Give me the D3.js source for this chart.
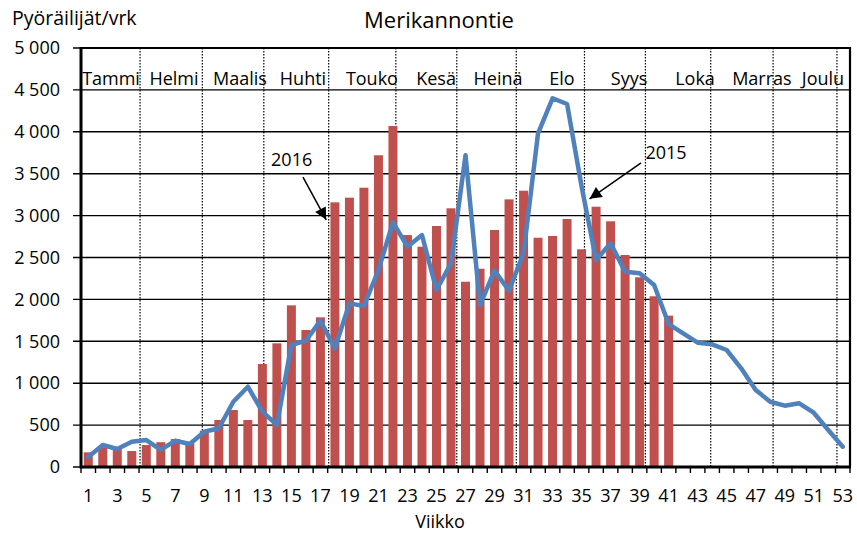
<!DOCTYPE html>
<html>
<head>
<meta charset="utf-8">
<script src="https://cdn.jsdelivr.net/npm/d3@7"></script>
<style>
  body { margin: 0; background: #fff; }
  svg { font-family: "Open Sans", sans-serif; }
</style>
</head>
<body>
<svg></svg>
<script>
// data
const weeks = [1,2,3,4,5,6,7,8,9,10,11,12,13,14,15,16,17,18,19,20,21,22,23,24,25,26,27,
  28,29,30,31,32,33,34,35,36,37,38,39,40,41,42,43,44,45,46,47,48,49,50,51,52,53];
const bars2016 = [175, 235, 215, 191, 262, 296, 334, 282, 433, 561, 680, 561, 1229, 1476, 1929,
  1635, 1786, 3158, 3214, 3333, 3720, 4069, 2768, 2629, 2876, 3087, 2211, 2366, 2828, 3194,
  3297, 2736, 2757, 2959, 2598, 3106, 2932, 2530, 2264, 2037, 1806];
const line2015 = [120, 262, 215, 302, 322, 205, 314, 274, 421, 462, 779, 958, 660, 501, 1456,
  1507, 1746, 1416, 1953, 1921, 2351, 2920, 2629, 2768, 2112, 2430, 3720, 1933, 2343, 2104,
  2550, 3982, 4400, 4332, 3350, 2470, 2669, 2331, 2311, 2172, 1706, 1595, 1484, 1464, 1396,
  1178, 919, 779, 732, 760, 648, 441, 242];
const yTicks = [0, 500, 1000, 1500, 2000, 2500, 3000, 3500, 4000, 4500, 5000];
const xTicks = [1,3,5,7,9,11,13,15,17,19,21,23,25,27,29,31,33,35,37,39,41,43,45,47,49,51,53];
const months = ["Tammi","Helmi","Maalis","Huhti","Touko","Kesä","Heinä","Elo","Syys","Loka","Marras","Joulu"];
// month label centres and month dividers, in week units from the left edge
const monthLabelPos = [2.07, 6.41, 10.96, 15.3, 20.05, 24.47, 28.74, 33.15, 37.77, 42.32, 46.93, 51.14];
const monthEdges = [4.07, 8.36, 12.6, 17.07, 21.7, 25.9, 30.0, 34.7, 38.9, 43.4, 47.7, 52.1];
// annotations: label, text position, arrow from -> to (week pos, value)
const notes = [
  {label: "2016", tx: 13.1, ty: 3590, x1: 15.3, y1: 3460, x2: 16.9, y2: 2950},
  {label: "2015", tx: 38.9, ty: 3680, x1: 38.6, y1: 3630, x2: 35.05, y2: 3200}
];

let svg = d3.select("svg");
const width = 857;
const height = 533;
let margin = {top: 48, bottom: 66, right: 7, left: 81};
svg.attr("width", width).attr("height", height);

let x = d3.scaleBand().domain(weeks)
  .range([margin.left, width - margin.right])
  .paddingInner(0.38).paddingOuter(0.19);
let xw = d3.scaleLinear().domain([0, 53]).range([margin.left, width - margin.right]);
let y = d3.scaleLinear().domain([0, 5000]).range([height - margin.bottom, margin.top]);
let cx = (w) => x(w) + x.bandwidth() / 2;

// horizontal grid + left ticks
svg.append("g").selectAll("line").data(yTicks).join("line")
  .attr("x1", margin.left - 8).attr("x2", width - margin.right)
  .attr("y1", d => y(d)).attr("y2", d => y(d))
  .attr("stroke", "#000").attr("stroke-width", 1.4);

// month dividers
svg.append("g").selectAll("line").data(monthEdges).join("line")
  .attr("x1", d => xw(d)).attr("x2", d => xw(d))
  .attr("y1", y(5000)).attr("y2", y(0))
  .attr("stroke", "#000").attr("stroke-width", 1.2)
  .attr("stroke-dasharray", "1.5,1.5");

// bars 2016
svg.append("g").selectAll("rect").data(bars2016).join("rect")
  .attr("x", (d, i) => x(weeks[i]))
  .attr("width", x.bandwidth())
  .attr("y", d => y(d))
  .attr("height", d => y(0) - y(d))
  .attr("fill", "#C0504D");

// line 2015
let line = d3.line()
  .x((d, i) => cx(weeks[i]))
  .y(d => y(d));
svg.append("path")
  .datum(line2015)
  .attr("d", line)
  .attr("fill", "none")
  .attr("stroke", "#4F81BD")
  .attr("stroke-width", 4.5)
  .attr("stroke-linejoin", "round")
  .attr("stroke-linecap", "round");

// x ticks at week boundaries
svg.append("g").selectAll("line").data(d3.range(0, 54)).join("line")
  .attr("x1", d => xw(d)).attr("x2", d => xw(d))
  .attr("y1", y(0)).attr("y2", y(0) + 6)
  .attr("stroke", "#000").attr("stroke-width", 1.4);

// frame
svg.append("line")
  .attr("x1", xw(0)).attr("x2", xw(0)).attr("y1", y(5000) - 1).attr("y2", y(0) + 1.5)
  .attr("stroke", "#000").attr("stroke-width", 3);
svg.append("line")
  .attr("x1", xw(0)).attr("x2", xw(53) + 1).attr("y1", y(0)).attr("y2", y(0))
  .attr("stroke", "#000").attr("stroke-width", 3);
svg.append("line")
  .attr("x1", xw(53)).attr("x2", xw(53)).attr("y1", y(5000) - 1).attr("y2", y(0))
  .attr("stroke", "#000").attr("stroke-width", 2.2);
svg.append("line")
  .attr("x1", xw(0)).attr("x2", xw(53) + 1).attr("y1", y(5000)).attr("y2", y(5000))
  .attr("stroke", "#000").attr("stroke-width", 2.2);

// axis labels
let fmt = d3.formatLocale({decimal: ",", thousands: " ", grouping: [3], currency: ["", ""]}).format(",");
let yAxis = d3.axisLeft(y).tickValues(yTicks).tickFormat(fmt).tickSize(0).tickPadding(21);
svg.append("g")
  .attr("transform", `translate(${margin.left}, 0)`)
  .call(yAxis)
  .call(g => g.select(".domain").remove())
  .selectAll("text").attr("font-size", 18).attr("fill", "#000")
  .attr("font-family", "Open Sans");

let xAxis = d3.axisBottom(x).tickValues(xTicks).tickSize(0).tickPadding(22);
svg.append("g")
  .attr("transform", `translate(0, ${y(0)})`)
  .call(xAxis)
  .call(g => g.select(".domain").remove())
  .selectAll("text").attr("font-size", 18).attr("fill", "#000")
  .attr("font-family", "Open Sans");

// month labels
svg.append("g").selectAll("text").data(months).join("text")
  .attr("x", (d, i) => xw(monthLabelPos[i]))
  .attr("y", 85)
  .attr("text-anchor", "middle")
  .attr("font-size", 18)
  .text(d => d);

// annotations
svg.append("defs").append("marker")
  .attr("id", "arrow").attr("viewBox", "0 0 10 10")
  .attr("refX", 10).attr("refY", 5)
  .attr("markerWidth", 15).attr("markerHeight", 12)
  .attr("markerUnits", "userSpaceOnUse")
  .attr("orient", "auto")
  .append("path").attr("d", "M0,0 L10,5 L0,10 z").attr("fill", "#000");

notes.forEach(n => {
  svg.append("line")
    .attr("x1", xw(n.x1)).attr("y1", y(n.y1))
    .attr("x2", xw(n.x2)).attr("y2", y(n.y2))
    .attr("stroke", "#000").attr("stroke-width", 1.5)
    .attr("marker-end", "url(#arrow)");
  svg.append("text")
    .attr("x", xw(n.tx)).attr("y", y(n.ty))
    .attr("font-size", 18)
    .text(n.label);
});

// titles
svg.append("text").attr("x", 439).attr("y", 28)
  .attr("text-anchor", "middle").attr("font-size", 22).text("Merikannontie");
svg.append("text").attr("x", 12).attr("y", 25)
  .attr("font-size", 19.5).text("Pyöräilijät/vrk");
svg.append("text").attr("x", 440).attr("y", 528)
  .attr("text-anchor", "middle").attr("font-size", 18).text("Viikko");
</script>
</body>
</html>
